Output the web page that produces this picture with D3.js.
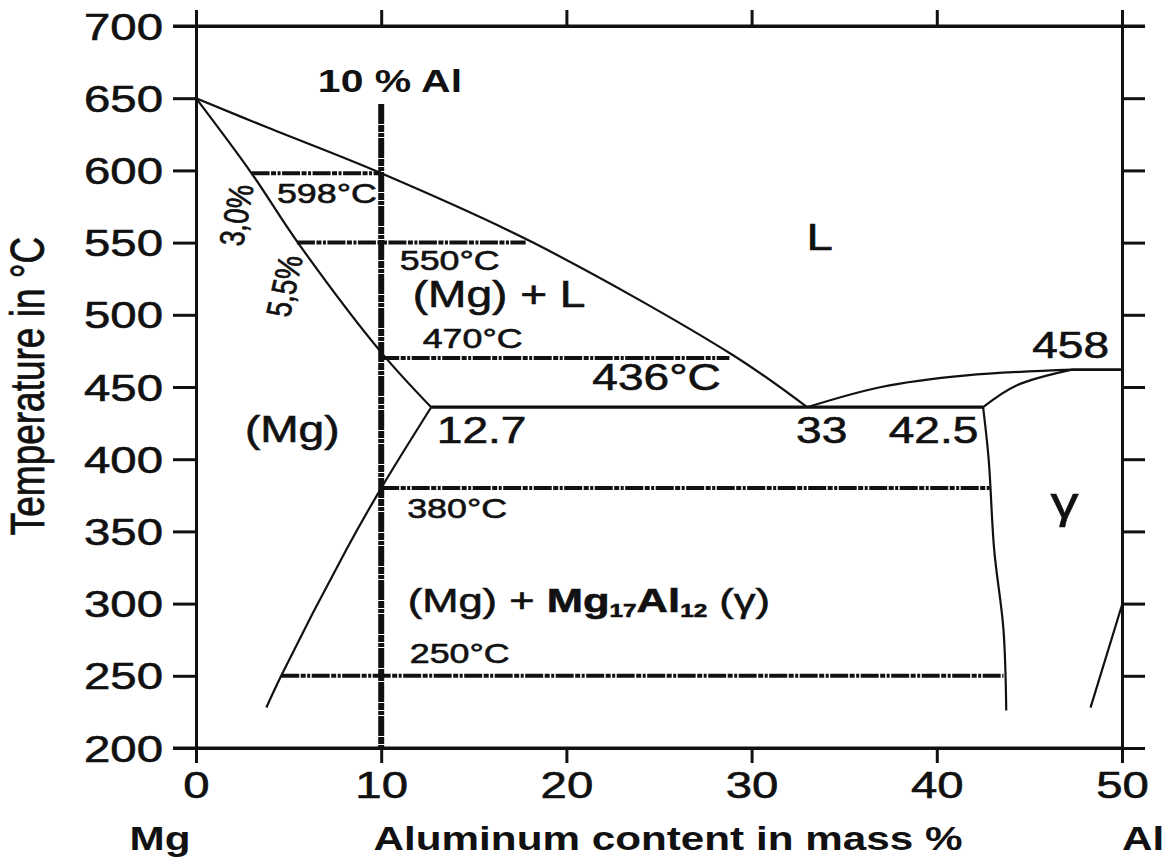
<!DOCTYPE html>
<html>
<head>
<meta charset="utf-8">
<script src="https://cdn.jsdelivr.net/npm/d3@7"></script>
<style>
  html, body { margin: 0; padding: 0; background: #fff; }
  svg { display: block; }
  text { font-family: "Liberation Sans", Arial, Helvetica, sans-serif; fill: #111; stroke: #111; stroke-width: 0.6px; }
</style>
</head>
<body>
<svg id="chart"></svg>
<script>
// Mg-Al phase diagram (Mg rich side)
const xTicks = [0, 10, 20, 30, 40, 50];
const yTicks = [200, 250, 300, 350, 400, 450, 500, 550, 600, 650, 700];

// phase boundaries: [Al mass %, temperature °C]
const liquidusMg = [[0, 650], [3.8, 630], [10, 598], [18.2, 550], [29, 472], [33, 436]];
const solidusMg = [[0, 650], [3.0, 598], [5.5, 550], [10, 474], [12.7, 436]];
const solvusMg = [[12.7, 436], [10, 380], [8.1, 337], [4.6, 250], [3.8, 228]];
const eutectic = [[12.7, 436], [42.5, 436]];
const liquidusGamma = [[33, 436], [37, 450], [41.6, 458], [47.3, 462]];
const gammaMelt = [[47.3, 462], [50, 462]];
const gammaUpper = [[42.5, 436], [44.3, 451], [47.3, 462]];
const solvusGamma = [[42.5, 436], [42.8, 400], [43.1, 337], [43.6, 282], [43.75, 226]];
const solvusAl = [[48.3, 228], [50, 299]];
const alloyLine = [[10, 646], [10, 200]];

// isotherms through the 10 % Al alloy
const isoTemps = [598, 550, 470, 380, 250];
const isoFrom = [3.0, 5.45, 10, 10, 4.6];
const isoTo = [10, 17.8, 28.8, 42.9, 43.6];

// annotation anchors (data coords)
const labelText = ['598°C', '550°C', '470°C', '380°C', '250°C', '(Mg) + L', '436°C', 'L', '(Mg)', '12.7', '33', '42.5', '458', 'γ', '10 % Al'];
const labelX = [4.37, 11.0, 12.24, 11.4, 11.54, 11.7, 21.4, 32.96, 2.64, 13.0, 32.4, 37.4, 45.15, 46.9, 6.58];
const labelT = [577.4, 531, 477, 359, 258.9, 505.4, 448, 544.9, 411.9, 411.2, 411.2, 411.2, 470, 359, 654];
const labelSize = [28, 28, 28, 28, 28, 36, 36, 37, 36, 36, 36, 36, 36, 44, 32];

const W = 1165, H = 862;
const SX = 1.28; // the original lettering is stretched horizontally

const svg = d3.select('#chart').attr('width', W).attr('height', H);

const x = d3.scaleLinear().domain([0, 50]).range([196, 1122]);
const y = d3.scaleLinear().domain([200, 700]).range([748, 26]);

const line = d3.line().x(d => x(d[0])).y(d => y(d[1]));
const curve = d3.line().x(d => x(d[0])).y(d => y(d[1])).curve(d3.curveCatmullRom.alpha(0.5));

function styleAxis(g) {
  g.selectAll('path.domain').attr('stroke', '#111').attr('stroke-width', 3);
  g.selectAll('.tick line').attr('stroke', '#111').attr('stroke-width', 3);
}

// frame with outward ticks on every side
const leftAxis = svg.append('g').attr('transform', `translate(${x(0)},0)`)
  .call(d3.axisLeft(y).tickValues(yTicks).tickSize(23).tickSizeOuter(0).tickFormat(d3.format('d')));
leftAxis.call(styleAxis);
leftAxis.selectAll('.tick text')
  .attr('x', null).attr('dy', null)
  .attr('transform', `translate(-33,13) scale(${SX},1)`)
  .attr('text-anchor', 'end')
  .style('font-size', '37px').attr('fill', '#111');

const rightAxis = svg.append('g').attr('transform', `translate(${x(50)},0)`)
  .call(d3.axisRight(y).tickValues(yTicks).tickSize(23).tickSizeOuter(0).tickFormat(''));
rightAxis.call(styleAxis);

const bottomAxis = svg.append('g').attr('transform', `translate(0,${y(200)})`)
  .call(d3.axisBottom(x).tickValues(xTicks).tickSize(15).tickSizeOuter(0).tickFormat(d3.format('d')));
bottomAxis.call(styleAxis);
bottomAxis.selectAll('.tick text')
  .attr('y', null).attr('dy', null)
  .attr('transform', `translate(0,50) scale(${SX},1)`)
  .attr('text-anchor', 'middle')
  .style('font-size', '37px').attr('fill', '#111');

const topAxis = svg.append('g').attr('transform', `translate(0,${y(700)})`)
  .call(d3.axisTop(x).tickValues(xTicks).tickSize(16).tickSizeOuter(0).tickFormat(''));
topAxis.call(styleAxis);

// corners: ticks poke out past the frame
svg.append('g').selectAll('line.corner')
  .data([[x(0) - 23, y(700), x(50) + 23, y(700)], [x(0) - 23, y(200), x(50), y(200)]])
  .join('line')
  .attr('x1', d => d[0]).attr('y1', d => d[1]).attr('x2', d => d[2]).attr('y2', d => d[3])
  .attr('stroke', '#111').attr('stroke-width', 3);

// phase boundaries
const plot = svg.append('g').attr('fill', 'none').attr('stroke', '#111').attr('stroke-width', 2.2);
[liquidusMg, solidusMg, solvusMg, liquidusGamma, gammaUpper, solvusGamma].forEach(p => {
  plot.append('path').attr('d', curve(p));
});
[solvusAl].forEach(p => plot.append('path').attr('d', line(p)));
plot.append('path').attr('d', line(eutectic)).attr('stroke-width', 3.2);
plot.append('path').attr('d', line(gammaMelt)).attr('stroke-width', 2.6);

// isotherms (dash-dot)
svg.append('g').selectAll('line.iso')
  .data(isoTemps.map((t, i) => ({ t, a: isoFrom[i], b: isoTo[i] })))
  .join('line')
  .attr('x1', d => x(d.a)).attr('x2', d => x(d.b))
  .attr('y1', d => y(d.t)).attr('y2', d => y(d.t))
  .attr('stroke', '#111').attr('stroke-width', 4)
  .attr('stroke-dasharray', '18,1.5,5,1.5,3,1.5');

// 10 % Al alloy line
svg.append('path').attr('d', line(alloyLine))
  .attr('fill', 'none').attr('stroke', '#111').attr('stroke-width', 6)
  .attr('stroke-dasharray', '20,1,7,1,4,1');

// labels
function put(txt, px, py, size, opts = {}) {
  const t = svg.append('text')
    .attr('transform', `translate(${px},${py}) scale(${SX},1)` + (opts.rotate ? ` rotate(${opts.rotate})` : ''))
    .attr('text-anchor', opts.anchor || 'start')
    .style('font-size', size + 'px')
    .style('font-weight', opts.bold ? 'bold' : 'normal');
  if (opts.bold) t.style('stroke-width', '0px');
  t.text(txt);
  return t;
}

labelText.forEach((s, i) => {
  const isBold = s === '10 % Al';
  put(s, x(labelX[i]), y(labelT[i]), labelSize[i], { bold: isBold, anchor: s === 'γ' ? 'middle' : 'start' });
});

// rotated composition labels along the solidus
put('3,0%', x(2.16), y(569), 27, { rotate: -82, anchor: 'middle' }).attr('dy', '0.36em');
put('5,5%', x(4.75), y(520), 27, { rotate: -80, anchor: 'middle' }).attr('dy', '0.36em');

// two-phase field label with subscripts
const mix = put('', x(11.43), y(294), 34);
mix.append('tspan').text('(Mg) + ');
mix.append('tspan').style('font-weight', 'bold').text('Mg');
mix.append('tspan').style('font-size', '19px').style('font-weight', 'bold').attr('dy', 5).text('17');
mix.append('tspan').style('font-weight', 'bold').attr('dy', -5).text('Al');
mix.append('tspan').style('font-size', '19px').style('font-weight', 'bold').attr('dy', 5).text('12');
mix.append('tspan').attr('dy', -5).text(' (γ)');

// axis titles
put('Temperature in °C', 44, 386, 37, { rotate: -90, anchor: 'middle' });
put('Aluminum content in mass %', 668, 850, 33, { bold: true, anchor: 'middle' });
put('Mg', 160, 850, 33, { bold: true, anchor: 'middle' });
put('Al', 1122, 850, 33, { bold: true });
</script>
</body>
</html>
